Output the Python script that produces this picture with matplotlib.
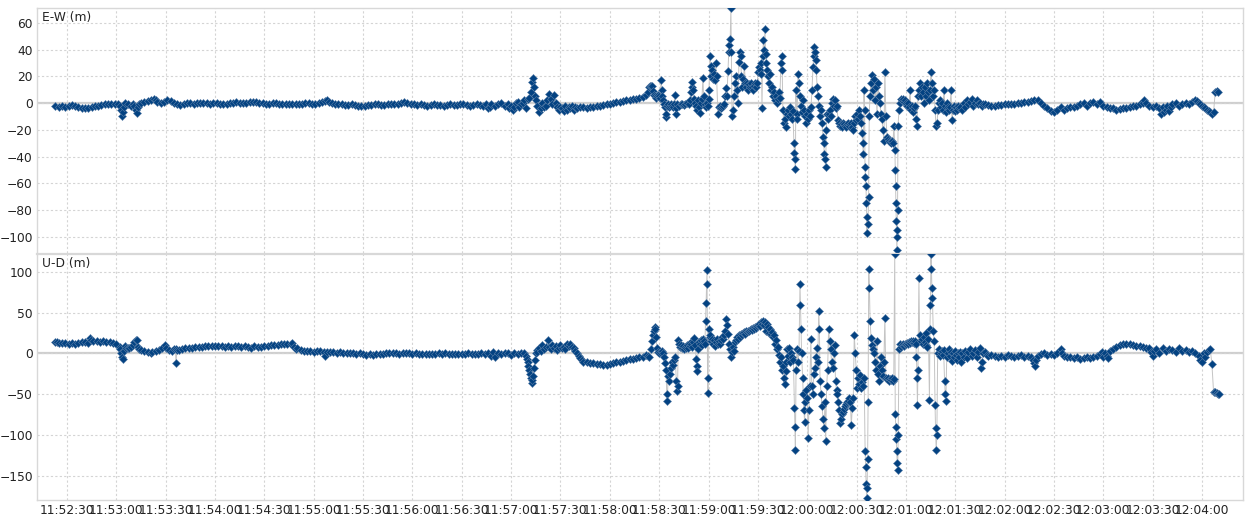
import matplotlib
matplotlib.use("Agg")
import matplotlib.pyplot as plt

# time in seconds after 11:52:00, value in metres
ew_quiet_a = [
    (23, -2.5), (25, -3), (27, -2.5), (29, -3), (31, -2), (33, -1.5), (35, -2), (37, -3), (39, -3.5),
    (41, -4), (43, -4), (45, -3), (47, -2.5), (49, -2), (51, -1.5), (53, -1), (55, -1), (57, -0.5),
    (59, -1), (61, -0.5), (62, -2), (63, -5), (63.5, -10), (64, -7), (64.5, -3), (65, 0), (67, -1),
    (69, -2), (70, -1), (71, -2), (72, -5), (72.5, -7.5), (73, -3), (74, -1), (75, 0), (77, 0.5),
    (79, 1.5), (81, 2.5), (83, 3), (84, 2), (85, 1), (87, 0), (89, 0.5), (91, 2), (93, 1.5), (95, 0),
    (97, -1), (99, -1.5), (101, -1), (103, 0), (105, 0), (107, -0.5), (109, 0), (111, 0), (113, 0),
    (115, 0), (117, -0.5), (119, 0), (121, 0), (123, -0.5), (125, -1), (127, -0.5), (129, 0), (131, 0),
    (133, 0.5), (135, 0), (137, 0), (139, 0), (141, 0.5), (143, 1), (145, 0.5), (147, 0), (149, 0),
    (151, -0.5), (153, -0.5), (155, 0), (157, 0), (159, -0.5), (161, -0.5), (163, -1), (165, -1),
    (167, -0.5), (169, -0.5), (171, -0.5), (173, -0.5), (175, 0), (177, 0), (179, -0.5), (181, -0.5),
    (183, 0), (185, 0.5), (187, 1.5), (188, 2.5), (189, 1), (191, 0), (193, -0.5), (195, -1), (197, -1),
    (199, -1.5), (201, -1.5), (203, -1), (205, -1.5), (207, -2), (209, -2.5), (211, -2), (213, -1.5),
    (215, -1.5), (217, -1), (219, -1), (221, -1.5), (223, -1.5), (225, -1), (227, -1), (229, -0.5),
    (231, -0.5), (233, 0), (235, 1), (237, 0), (239, -0.5), (241, -1), (243, -1.5), (245, -1),
    (247, -1.5), (249, -2), (251, -1.5), (253, -1), (255, -1.5), (257, -1.5), (259, -2), (261, -1.5),
    (263, -1), (265, -1.5), (267, -1.5), (269, -1), (271, -1), (273, -1.5), (275, -2), (277, -1.5),
    (279, -1), (281, -1.5), (283, -2), (285, -1), (286, -4), (287, -3), (288, -1), (290, -2), (292, -1),
    (294, 0), (296, -2), (298, -1), (299, -4), (300, -2), (301, -5), (302, -3), (303, 0), (304, 1),
    (305, -3), (306, -1), (307, 0), (308, 2), (309, -4), (310, 3), (311, 4), (312, 8), (312.7, 16),
    (313.3, 19), (313.8, 12), (314.3, 5), (315, 2), (316, -2), (317, -7), (318, -4), (319, 0), (320, -3),
    (321, -2), (322, 2), (323, 7), (324, 3), (325, -1), (326, 6), (327, 0), (328, -3), (329, -5),
    (330, -3), (331, -4), (332, -6), (333, -2), (334, -5), (335, -3), (336, -4), (337, -2), (338, -5),
    (339, -3), (340, -4), (342, -3), (344, -3), (346, -4), (348, -3), (350, -3), (352, -2.5), (354, -2),
    (356, -1.5), (358, -1), (360, -0.5), (362, 0), (364, 0.5), (366, 1), (368, 1.5), (370, 2), (372, 2.5),
    (374, 3), (376, 3), (378, 4), (380, 4.5), (382, 6), (383, 8),
]

ew_disturbed = [
    (384, 12), (384.6, 13), (385.2, 12.5), (385.8, 13), (386.4, 9), (387, 6), (387.6, 5), (388.2, 4),
    (388.8, 5), (389.4, 6), (390, 5), (390.6, 4), (391.2, 17), (391.5, 10), (391.8, 5), (392.4, 2),
    (393, -1), (393.6, -3), (394, -10.5), (394.3, -8), (394.8, -2), (395.4, -1), (396, -3), (396.6, -2),
    (397.2, -1), (397.8, -2), (398.4, -3), (399, -1), (399.6, 6), (400, -8), (400.4, -4), (401, -1),
    (402, -2), (403, -1), (404, -1), (405, -1.5), (406, -1), (407, 0), (408, -1), (408.6, 2), (409.2, 8),
    (409.8, 12), (410.2, 16), (410.6, 10), (411, 3), (411.6, 0), (412.2, -2), (412.8, -5), (413.4, 2),
    (414, -3), (414.8, -7.5), (415.5, 0), (416, 3), (416.6, 19), (417, 5), (417.6, -1), (418.2, -3),
    (418.8, 0), (419.4, -2), (420, 3), (420.3, 10), (420.9, 35), (421.3, 28), (421.7, 20), (422.1, 25),
    (422.6, 18), (423.2, 22), (423.9, 17), (424.4, 30), (424.9, 20), (425.7, -8), (426.3, -3), (427, -2),
    (427.6, -4), (428.2, -3), (428.8, -2), (429.4, -1), (430, 5), (430.6, 11), (431.2, 5), (431.8, 24),
    (432.3, 38), (432.7, 43), (433.2, 48), (433.6, 71), (433.9, 38), (434.3, -10), (434.8, -5),
    (435.4, 5), (436.1, 15), (436.7, 20), (437.3, 10), (437.9, 0), (438.5, 31), (439.1, 38), (439.5, 35),
    (440, 20), (440.6, 12), (441.2, 18), (441.8, 28), (442.4, 15), (443, 12), (443.6, 15), (444.2, 10),
    (444.8, 14), (445.4, 12), (446, 15), (446.6, 12), (447.2, 10), (447.8, 13), (448.4, 15), (449, 12),
    (449.6, 15), (450.1, 23), (450.6, 27), (451.1, 25), (451.6, 22), (452.2, 30), (452.5, -4),
    (452.9, 35), (453.4, 47), (453.8, 40), (454.3, 55), (454.7, 37), (455.1, 30), (455.5, 25),
    (456.1, 20), (456.6, 15), (457.2, 22), (457.8, 10), (458.4, 12), (459.2, 5), (459.8, 8), (460.4, 2),
    (461, 5), (461.6, 0), (462.2, 3), (462.8, 8), (463.4, 4), (464, 30), (464.4, 35), (464.8, 25),
    (465.2, -5), (465.8, -15), (466.5, -12), (467.1, -18), (467.7, -8), (468.3, -5), (468.9, -10),
    (469.5, -3), (470.1, -8), (470.7, -12), (471.3, -6), (471.9, -30), (472.2, -37), (472.5, -42),
    (472.8, -49), (473.1, 10), (473.5, -8), (473.8, -12), (474.4, 22), (474.9, 15), (475.6, 5),
    (476.2, -2), (476.8, -7), (477.4, 2), (478, -5), (478.7, -10), (479.3, -15), (479.9, -8),
    (480.5, -12), (481.1, -5), (481.7, -10), (482.3, -3), (482.9, 10), (483.5, 27), (483.9, 35),
    (484.3, 42), (484.7, 38), (485.1, 32), (485.5, 25), (486, 12), (486.5, 5), (487.1, -2), (487.7, -10),
    (488.3, -5), (488.9, -15), (489.6, -25), (490, -30), (490.4, -38), (490.8, -42), (491.2, -48),
    (491.6, -20), (492, -8), (492.6, -12), (493.2, -8), (493.8, -5), (494.4, -10), (495, 0), (495.7, 3),
    (496.3, -2), (496.9, 2), (497.5, -4), (498.1, -2), (498.7, -13), (499.3, -15), (499.9, -17),
    (500.5, -16), (501.1, -18), (501.7, -15), (502.3, -16), (502.9, -17), (503.5, -18), (504.1, -16),
    (504.7, -15), (505.3, -17), (506, -16), (506.6, -15), (507.2, -18), (507.8, -20), (508.4, -15),
    (509, -10), (509.6, -13), (510.2, -8), (510.8, -12), (511.4, -5), (512.1, -10), (512.7, -15),
    (513.3, -22), (513.7, -30), (514.1, -38), (514.5, 10), (514.9, -5), (515.1, -48), (515.4, -55),
    (515.7, -62), (516, -75), (516.3, -97), (516.6, -85), (516.9, -90), (517.3, -70), (517.7, -10),
    (518.1, 5), (518.7, 15), (519.3, 21), (519.9, 10), (520.5, 18), (521.2, 2), (521.8, 12),
    (522.4, -8), (523, 15), (523.6, 5), (524.2, 0), (524.8, -8), (525.4, -12), (526, -20), (526.6, -28),
    (527.2, 23), (527.8, -10), (528.5, -25), (529.1, -27), (529.7, -28), (530.3, -29), (530.9, -30),
    (531.5, -28), (532.1, -30), (532.7, -17), (533.3, -35), (533.5, -50), (533.7, -62), (533.9, -75),
    (534.1, -88), (534.3, -100), (534.5, -110), (534.7, -95), (534.9, -80), (535.2, -17), (535.8, -5),
    (536.4, 0), (537, 3), (537.6, 2), (538.2, 3), (538.8, 1), (539.4, 2), (540, 0), (540.6, -2),
    (541.2, 0), (541.8, -3), (542.5, 10), (543.1, -5), (543.7, -2), (544.3, -7), (544.9, -4),
    (545.5, -2), (546.1, -12), (546.7, -17), (547.3, 5), (547.9, 10), (548.5, 15), (549.1, 5),
    (549.7, 12), (550.3, 8), (550.9, 0), (551.6, 12), (552.2, 5), (552.8, 15), (553.4, 8), (554, 2),
    (554.6, 10), (555.2, 23), (555.8, 15), (556.4, 5), (557, 10), (557.7, -5), (558.3, -17),
    (558.9, -15), (559.5, -5), (560.1, 0), (560.7, 2), (561.3, -3), (561.9, 0), (562.5, -5), (563.1, 10),
    (563.7, -2), (564.3, -7), (564.9, 0), (565.6, -3), (566.2, -5), (566.8, -3), (567.4, 10),
    (568, -13), (568.6, -5), (569.2, -2), (569.8, -6), (570.4, -3), (571, -5), (571.6, -2), (572.3, -4),
    (573, -3),
]

ew_quiet_b = [
    (574, -5), (575, 0), (576, -3), (577, 2), (578, -1), (579, 1), (580, 3), (581, -2), (582, 0),
    (583, 2), (584, -1), (585, 0), (586, -2), (587, -1), (588, -1), (590, -1.5), (592, -2), (594, -2),
    (596, -1.5), (598, -1.5), (600, -1), (602, -1), (604, -1), (606, -0.5), (608, 0), (610, 0),
    (612, 0.5), (614, 1), (616, 1.5), (618, 2.5), (620, 2), (622, 0), (624, -2), (626, -4), (628, -6),
    (630, -7), (632, -5), (634, -3), (636, -5), (638, -4), (640, -3), (642, -3), (644, -2), (646, -1),
    (648, 0), (650, -2), (652, 0), (654, 1), (656, -1), (658, 1), (660, -2), (662, -3), (664, -4),
    (666, -4), (668, -5), (670, -4.5), (672, -4), (674, -3.5), (676, -3), (678, -2), (680, -2),
    (682, -1), (684, 0), (685, 2), (686, 0), (688, -2), (690, -3), (692, -2), (694, -4), (695, -8),
    (696, -3), (697, -7), (698, -5), (699, -2), (700, -6), (701, -3), (702, -1), (704, 0), (706, -2),
    (708, -1), (710, 0), (712, -1), (714, 1), (716, 2), (717, 1.5), (718, 0), (719, -1), (720, -2),
    (721, -3), (722, -4), (723, -5), (724, -6), (725, -7), (726, -8), (727, -7), (728, 8), (729, 9),
    (730, 8.5),
]

ud_quiet_a = [
    (23, 14), (24, 14), (25, 13), (27, 13), (29, 13), (31, 12), (33, 13), (35, 12), (37, 13), (39, 14),
    (41, 14), (43, 13), (44, 19), (44.5, 16), (46, 15), (48, 15), (50, 14), (52, 15), (54, 14.5),
    (56, 14), (58, 13), (60, 12), (62, 8), (62.5, 5), (63, 0), (63.5, -4), (64, -7), (64.5, 3), (65, 9),
    (66, 7), (67, 7), (68, 6), (69, 8), (70, 10), (71, 14), (72, 17), (72.6, 17), (73, 8), (74, 5),
    (75, 4), (77, 3), (79, 2), (81, 0), (82, 2), (84, 3), (86, 4), (88, 6), (89.5, 10), (90, 7), (92, 4),
    (94, 3), (95, 5), (96, 5), (96.3, -12), (96.8, 4), (98, 4), (100, 5), (102, 6), (104, 6), (106, 7),
    (108, 8), (110, 8), (112, 8), (114, 8.5), (116, 9), (118, 9), (120, 8.5), (122, 9), (124, 9),
    (126, 8), (128, 9), (130, 8), (132, 8.5), (134, 9), (136, 8), (138, 8.5), (140, 8), (142, 7),
    (144, 9), (146, 8), (148, 8), (150, 9), (152, 9), (154, 10), (156, 10), (158, 10.5), (160, 11),
    (162, 11), (164, 11), (166, 12), (167, 12.5), (168, 8), (169, 5), (170, 6), (172, 4), (174, 3),
    (176, 3.5), (178, 3), (180, 2), (182, 3), (184, 3), (186, 2), (187, -3), (188, 2), (190, 1.5),
    (192, 2), (194, 1), (196, 1.5), (198, 1), (200, 0.5), (202, 1), (204, 0), (206, -0.5), (208, 0),
    (210, -1), (212, -1.5), (214, -1), (216, -2), (218, -1), (220, -1), (222, -0.5), (224, 0), (226, 0),
    (228, 0.5), (230, 0), (232, -0.5), (234, 0), (236, 0.5), (238, 0), (240, -0.5), (242, 0), (244, -1),
    (246, -0.5), (248, -1), (250, -0.5), (252, -1), (254, -0.5), (256, 0), (258, -1), (260, 0),
    (262, -1), (264, -0.5), (266, -1), (268, -0.5), (270, -1), (272, -1), (274, 0), (276, -1),
    (278, -0.5), (280, -1), (282, 0), (284, -1), (286, 1), (288, -3), (289, 2), (290, -4), (292, 0),
    (294, -1), (296, 0), (298, 1), (300, -2), (302, 0), (304, -1), (306, 1), (308, 0), (309, -3),
    (309.5, -7), (310, -10), (310.5, -15), (311, -20), (311.5, -25), (312, -30), (312.5, -36),
    (313, -33), (313.5, -28), (314, -18), (314.5, -8), (315, 0), (315.5, 4), (316, 2), (317, 6), (318, 3),
    (319, 10), (320, 5), (321, 8), (322.4, 17), (323, 8), (324, 5), (325, 10), (326, 6), (327, 9),
    (328, 4), (329, 7), (330, 10), (331, 6), (332, 8), (333, 5), (334, 12), (335, 9), (336, 12), (337, 8),
    (338, 6), (339, 3), (340, 0), (341, -3), (342, -6), (343, -8), (344, -10), (346, -11), (348, -12),
    (350, -12), (352, -13), (354, -13), (356, -14), (358, -14), (360, -13), (362, -12), (364, -11),
    (366, -10), (368, -9), (370, -8), (372, -7), (374, -7), (376, -6), (378, -5), (380, -4), (382, -2),
    (383, -3),
]

ud_disturbed = [
    (384, -4), (384.8, 5), (385.4, 15), (386, 22), (386.6, 27), (387.2, 32), (387.6, 30), (388, 20),
    (388.6, 7), (389.2, 2), (390, 1), (391, 0), (392, 3), (392.6, 0), (393.2, -5), (393.8, -12),
    (394.2, -20), (394.6, -50), (395, -58), (395.4, -28), (396, -34), (396.6, -25), (397.2, -18),
    (398, -10), (398.6, -14), (399.2, -8), (399.8, -5), (400.4, -34), (400.8, -46), (401.2, -40),
    (401.6, 17), (402, 12), (402.6, 8), (403.2, 10), (403.8, 6), (404.4, 9), (405, 5), (405.6, 8),
    (406.2, 7), (406.8, 10), (407.4, 6), (408, 12), (408.6, 9), (409.2, 11), (409.8, 15), (410.2, 8),
    (410.8, 14), (411.4, 19), (412, 10), (412.4, -7), (412.8, -15), (413.2, -22), (413.6, 5), (414.2, 14),
    (414.8, 12), (415.4, 16), (416, 10), (416.6, 18), (417.2, 15), (417.8, 12), (418.2, 40), (418.5, 62),
    (418.8, 85), (419.1, 102), (419.4, -30), (419.7, -49), (420, 30), (420.6, 20), (421.2, 23),
    (421.8, 15), (422.4, 18), (423, 12), (423.6, 16), (424.2, 9), (424.8, 14), (425.4, 18), (426, 11),
    (426.6, 15), (427.2, 12), (427.8, 16), (428.4, 20), (429, 18), (429.6, 22), (430.2, 28), (430.8, 42),
    (431.4, 35), (432, 24), (432.6, 11), (433.2, 5), (433.8, -5), (434.4, 2), (435, 8), (435.6, 3),
    (436.2, 14), (436.8, 17), (437.4, 20), (438, 18), (438.6, 22), (439.2, 20), (439.8, 24), (440.4, 22),
    (441, 25), (441.6, 26), (442.2, 24), (442.8, 27), (443.4, 26), (444, 28), (444.6, 27), (445.2, 29),
    (445.8, 30), (446.4, 29), (447, 31), (447.6, 30), (448.2, 32), (448.8, 31), (449.4, 33), (450, 35),
    (450.6, 36), (451.2, 34), (451.8, 38), (452.4, 36), (453, 40), (453.6, 35), (454.2, 38), (454.8, 28),
    (455.4, 36), (456, 32), (456.6, 25), (457.2, 30), (457.8, 24), (458.4, 26), (459, 20), (459.6, 23),
    (460.2, 12), (460.8, 16), (461.4, 5), (462, 8), (462.6, -2), (463.2, -10), (463.8, -5), (464.4, -20),
    (465, -15), (465.6, -30), (466.2, -38), (466.8, -22), (467.4, -10), (468, 5), (468.6, -3), (469.2, 7),
    (469.8, -10), (470.4, 0), (471, -5), (471.6, -8), (472.2, -67), (472.5, -90), (472.8, -119),
    (473.2, -20), (473.8, 5), (474.4, -10), (475, 3), (475.6, 85), (475.9, 60), (476.2, 30), (476.6, 0),
    (477.2, -30), (477.6, -50), (478, -70), (478.4, -84), (478.8, -60), (479.4, -45), (480, -55),
    (480.6, -104), (481, -70), (481.6, -40), (482.2, 18), (482.8, -40), (483.4, -50), (484, -25),
    (484.6, -18), (485.2, -5), (485.8, 7), (486.4, -10), (487, 52), (487.4, 30), (487.8, -34),
    (488.4, -50), (489, -65), (489.6, -80), (490.2, -92), (490.8, -60), (491.2, -108), (491.8, -40),
    (492.4, -20), (493, 30), (493.6, 15), (494.2, 5), (494.8, -10), (495.4, -18), (496, 0), (496.6, 10),
    (497.2, -34), (497.8, -45), (498.4, -50), (499, -60), (499.6, -70), (500.2, -86), (500.8, -80),
    (501.4, -75), (502, -72), (502.6, -68), (503.2, -65), (503.8, -62), (504.4, -60), (505, -58),
    (505.6, -55), (506.2, -60), (506.8, -88), (507.4, -67), (508, -55), (508.6, 23), (509.2, 0),
    (509.8, -20), (510.4, -42), (511, -30), (511.6, -38), (512.2, -26), (512.8, -42), (513.4, -35),
    (514, -40), (514.6, -30), (515.2, -120), (515.5, -140), (515.8, -160), (516.1, -178), (516.4, -165),
    (516.7, -130), (517, -60), (517.4, 104), (517.8, 80), (518.2, 40), (518.8, 19), (519.4, 10),
    (520, 5), (520.6, 0), (521.2, -10), (521.8, -20), (522.4, 15), (523, -25), (523.6, -34), (524.2, -15),
    (524.8, -5), (525.4, -20), (526, -28), (526.6, -10), (527.2, 44), (527.8, -30), (528.4, -32),
    (529, -30), (529.6, -34), (530.2, -31), (530.8, -33), (531.4, -30), (532, -34), (532.6, -32),
    (533.2, 122), (533.5, -75), (533.8, -90), (534.1, -105), (534.4, -120), (534.7, -135), (535, -143),
    (535.3, -100), (535.8, 5), (536.4, 11), (537, 8), (537.6, 10), (538.2, 12), (538.8, 9), (539.4, 11),
    (540, 12), (540.6, 13), (541.2, 12), (541.8, 14), (542.4, 13), (543, 15), (543.6, 14), (544.2, 15),
    (544.8, 13), (545.4, 15), (546, 12), (546.4, -5), (546.7, -30), (547, -63), (547.3, -20), (547.9, 92),
    (548.3, 23), (548.9, 15), (549.5, 18), (550.1, 12), (550.7, 20), (551.3, 14), (551.9, 10),
    (552.5, 25), (553.1, 8), (553.7, 18), (554.3, -57), (554.6, 30), (554.9, 60), (555.2, 122),
    (555.5, 104), (555.8, 80), (556.1, 68), (556.6, 28), (557.2, 15), (557.7, -63), (558, -92),
    (558.4, -119), (558.8, -100), (559.3, 0), (559.9, 5), (560.5, -3), (561.1, 0), (561.7, 3),
    (562.3, -2), (562.9, 4), (563.5, -34), (563.9, -50), (564.3, -59), (564.8, -5), (565.4, 0), (566, 5),
    (566.6, -3), (567.2, 2), (567.8, -9), (568.4, 0), (569, -5), (569.6, 3), (570.2, -2), (570.8, -8),
    (571.4, 0), (572, -5), (572.6, 2),
]

ud_quiet_b = [
    (573.5, -10), (574, 0), (575, -5), (576, 3), (577, -6), (578, 2), (579, 5), (580, -3), (581, 0),
    (582, 4), (583, -5), (584, 2), (585, 7), (585.5, -18), (586, -10), (587, 0), (588, 2), (589, -2),
    (590, -3), (592, -2), (594, -3), (596, -4), (598, -3), (600, -4), (602, -2), (604, -3), (606, -4),
    (608, -3), (610, -2), (612, -4), (614, -3), (616, -5), (617, -8), (618, -12), (618.5, -15), (619, -8),
    (620, -3), (622, -1), (624, 0), (626, -2), (628, -1), (630, -2), (632, 0), (634, 5), (635, 0),
    (636, -3), (638, -5), (640, -4), (642, -6), (644, -5), (646, -7), (648, -6), (650, -5), (652, -6),
    (654, -4), (656, -3), (658, -1), (659, 2), (660, -5), (661, 0), (662, -3), (663, -6), (664, 3),
    (666, 5), (668, 8), (670, 10), (672, 12), (674, 12), (676, 11), (678, 10), (680, 9), (682, 9),
    (684, 8), (686, 7), (688, 6), (689, 2), (690, -3), (691, 3), (692, 5), (694, 0), (696, 6), (698, 3),
    (700, 5), (702, 4), (704, 2), (706, 6), (708, 3), (710, 4), (712, 2), (714, 3), (716, 0), (718, -3),
    (719, -8), (720, -11), (721, 0), (722, -5), (723, 2), (724, 4), (725, 5), (726, -13), (727, -47),
    (728, -48), (729, -49), (730, -50), (730.5, -50),
]

x_tick_labels = ['11:52:30', '11:53:00', '11:53:30', '11:54:00', '11:54:30', '11:55:00',
                 '11:55:30', '11:56:00', '11:56:30', '11:57:00', '11:57:30', '11:58:00',
                 '11:58:30', '11:59:00', '11:59:30', '12:00:00', '12:00:30', '12:01:00',
                 '12:01:30', '12:02:00', '12:02:30', '12:03:00', '12:03:30', '12:04:00']
ew_ticks = [60, 40, 20, 0, -20, -40, -60, -80, -100]
ud_ticks = [100, 50, 0, -50, -100, -150]


def to_seconds(label):
    h, m, s = [int(p) for p in label.split(':')]
    return (h - 11) * 3600 + (m - 52) * 60 + s


def draw_panel(ax, pts, title, yticks, ylim, show_x):
    t = [p[0] for p in pts]
    v = [p[1] for p in pts]
    ax.plot(t, v, color='#c4c4c4', lw=0.7, zorder=2)
    ax.plot(t, v, ls='none', marker='D', ms=4.2, mew=0.4, mec='#5a7fa8',
            color='#034282', zorder=3)
    ax.axhline(0, color='#cfcfcf', lw=1.6, zorder=1)
    ax.set_xlim(11.8, 744.9)
    ax.set_ylim(*ylim)
    ax.set_yticks(yticks)
    ax.set_xticks([to_seconds(l) for l in x_tick_labels])
    if show_x:
        ax.set_xticklabels(x_tick_labels)
    else:
        ax.set_xticklabels([])
    ax.grid(True, ls=(0, (2, 2)), color='#d4d4d4', lw=0.8, zorder=0)
    ax.tick_params(length=0, labelsize=8.8, colors='#222222', pad=3)
    for s in ax.spines.values():
        s.set_color('#d8d8d8')
        s.set_linewidth(1.0)
    ax.text(0.004, 0.962, title, transform=ax.transAxes, fontsize=8.8, color='#222222',
            va='center', ha='left')


fig = plt.figure(figsize=(12.49, 5.18), dpi=100)
ax1 = fig.add_axes([37 / 1249, 1 - 253 / 518, 1206 / 1249, 245 / 518])
ax2 = fig.add_axes([37 / 1249, 1 - 500 / 518, 1206 / 1249, 246 / 518])

draw_panel(ax1, ew_quiet_a + ew_disturbed + ew_quiet_b, 'E-W (m)', ew_ticks, (-112, 71), False)
draw_panel(ax2, ud_quiet_a + ud_disturbed + ud_quiet_b, 'U-D (m)', ud_ticks, (-180, 122), True)
ax1.spines['bottom'].set_visible(False)
ax2.spines['top'].set_linewidth(1.6)

fig.savefig('out.png', dpi=100)
